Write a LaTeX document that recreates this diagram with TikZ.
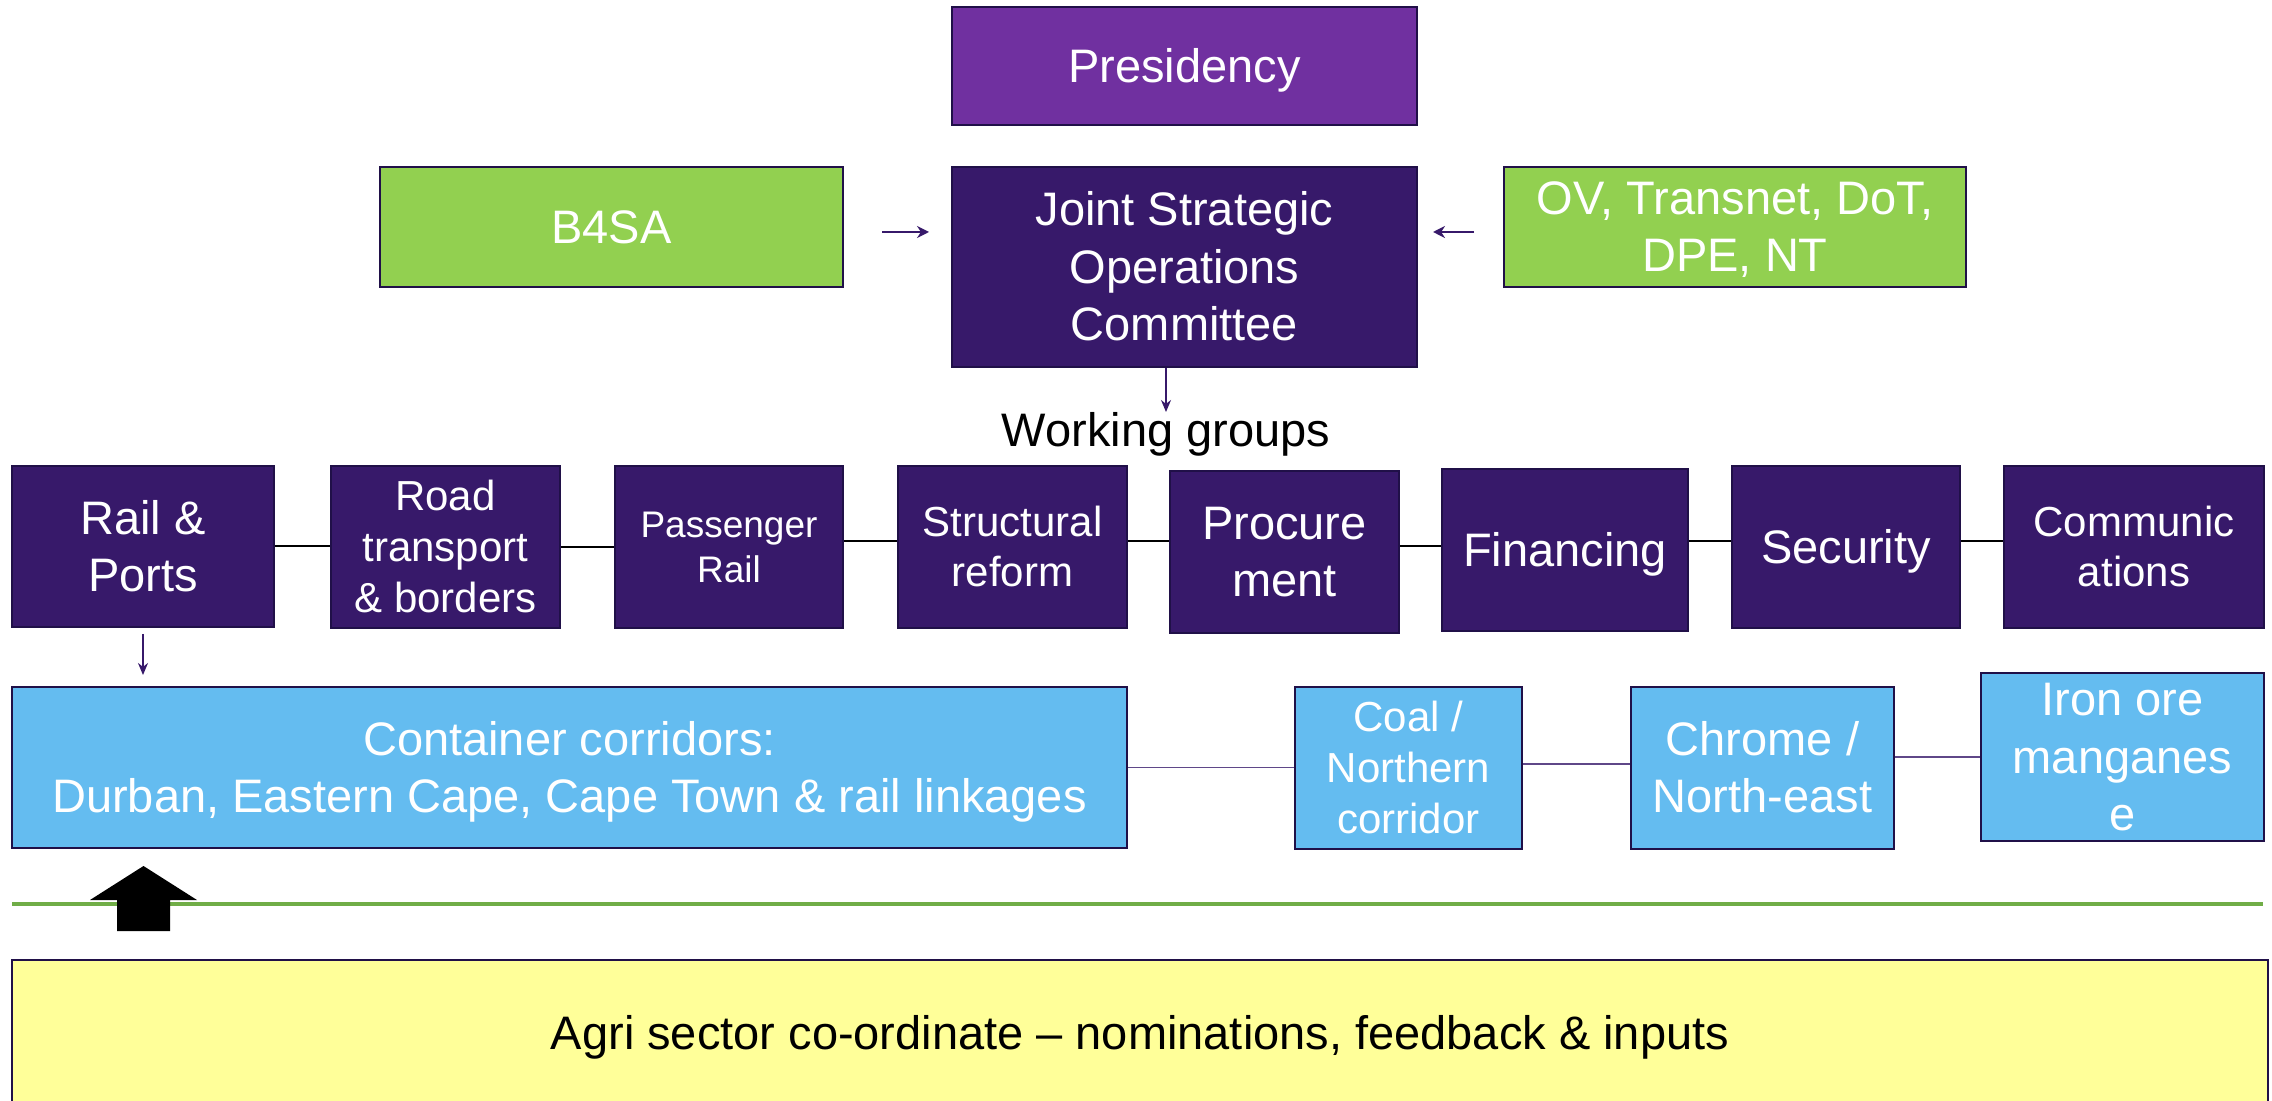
\documentclass[tikz,border=0pt]{standalone}
\usepackage{fontspec}
\setmainfont{Liberation Sans}
\usetikzlibrary{arrows.meta}
\definecolor{presid}{RGB}{112,48,160}
\definecolor{darkp}{RGB}{55,25,106}
\definecolor{greenbox}{RGB}{146,208,80}
\definecolor{bluebox}{RGB}{100,188,240}
\definecolor{yellowbox}{RGB}{255,255,153}
\definecolor{greenline}{RGB}{112,173,71}
\definecolor{edge}{RGB}{32,16,72}
\newcommand\fsbig{\fontsize{23.5}{28.7}\selectfont}
\newcommand\fsmid{\fontsize{21}{25.3}\selectfont}
\newcommand\fssmall{\fontsize{18.5}{22.5}\selectfont}
\newcommand\myst{\rule[-0.212em]{0pt}{1.117em}}
\tikzset{
  box/.style={draw=edge, line width=1pt, text=white, align=center, inner sep=0pt, font=\fsbig},
  arr/.style={draw=darkp, line width=0.9pt, -{Stealth[length=6pt,width=6pt]}},
  thinarr/.style={draw=darkp, line width=0.6pt, -{Stealth[length=6pt,width=5pt]}},
  link/.style={draw=black, line width=1pt},
  blink/.style={draw=darkp!80, line width=0.6pt}
}
\begin{document}
\begin{tikzpicture}[x=0.5pt,y=-0.5pt]
\useasboundingbox[fill=white] (0,0) rectangle (2272,1101);
% top
\node[box, fill=presid, minimum width=232.5pt, minimum height=59pt] (pres) at (1184.5,66) {\myst Presidency\myst};
\node[box, fill=greenbox, minimum width=231.5pt, minimum height=60pt] (b4sa) at (611.5,227) {\myst B4SA\myst};
\node[box, fill=darkp, minimum width=232.5pt, minimum height=100pt] (jsoc) at (1184.5,267) {\myst Joint Strategic\\Operations\\Committee\myst};
\node[box, fill=greenbox, minimum width=231pt, minimum height=60pt] (ov) at (1735,227) {\myst OV, Transnet, DoT,\\DPE, NT\myst};
\node[inner sep=0pt, anchor=north, font=\fsbig] (wg) at (1166,412) {Working groups};
\draw[arr, shorten <=19pt, shorten >=11pt] ([yshift=-2.5pt]b4sa.east) -- ([yshift=-2.5pt]b4sa.east -| jsoc.west);
\draw[arr, shorten <=14.5pt, shorten >=7.5pt] ([yshift=-2.5pt]ov.west) -- ([yshift=-2.5pt]ov.west -| jsoc.east);
\draw[thinarr] (jsoc.south -| wg.north) -- (wg.north);
% working groups row
\node[box, fill=darkp, minimum width=131pt, minimum height=80.5pt] (rail) at (143,546.5) {\myst Rail \&\\Ports\myst};
\node[box, fill=darkp, minimum width=114.5pt, minimum height=81pt, font=\fsmid] (road) at (445.5,547) {\myst Road\\transport\\\& borders\myst};
\node[box, fill=darkp, minimum width=114pt, minimum height=81pt, font=\fssmall] (pass) at (729,547) {\myst Passenger\\Rail\myst};
\node[box, fill=darkp, minimum width=114.5pt, minimum height=81pt, font=\fsmid] (struct) at (1012.5,547) {\myst Structural\\reform\myst};
\node[box, fill=darkp, minimum width=114.5pt, minimum height=81pt] (proc) at (1284.5,552) {\myst Procure\\ment\myst};
\node[box, fill=darkp, minimum width=123pt, minimum height=81pt] (fin) at (1565,550) {\myst Financing\myst};
\node[box, fill=darkp, minimum width=114pt, minimum height=81pt] (sec) at (1846,547) {\myst Security\myst};
\node[box, fill=darkp, minimum width=130pt, minimum height=81pt, font=\fsmid] (comm) at (2134,547) {\myst Communic\\ations\myst};
\draw[link] (rail.east) -- (rail.east -| road.west);
\draw[link] (road.east) -- (road.east -| pass.west);
\draw[link] ([yshift=3pt]pass.east) -- ([yshift=3pt]pass.east -| struct.west);
\draw[link] ([yshift=3pt]struct.east) -- ([yshift=3pt]struct.east -| proc.west);
\draw[link] ([yshift=3pt]proc.east) -- ([yshift=3pt]proc.east -| fin.west);
\draw[link] ([yshift=4.5pt]fin.east) -- ([yshift=4.5pt]fin.east -| sec.west);
\draw[link] ([yshift=3pt]sec.east) -- ([yshift=3pt]sec.east -| comm.west);
% corridors row
\node[box, fill=bluebox, minimum width=557.5pt, minimum height=80.5pt] (cont) at (569.5,767.5) {\myst Container corridors:\\Durban, Eastern Cape, Cape Town \& rail linkages\myst};
\node[box, fill=bluebox, minimum width=113.5pt, minimum height=81pt, font=\fsmid] (coal) at (1408.5,768) {\myst Coal /\\Northern\\corridor\myst};
\node[box, fill=bluebox, minimum width=131.5pt, minimum height=81pt] (chrome) at (1762.5,768) {\myst Chrome /\\North-east\myst};
\node[box, fill=bluebox, minimum width=141.5pt, minimum height=81pt] (iron) at (2122.5,757) {\myst Iron ore\\manganes\\e\myst};
\draw[thinarr, shorten <=3pt, shorten >=5.5pt] (rail.south) -- (rail.south |- cont.north);
\draw[blink] (cont.east) -- (cont.east -| coal.west);
\draw[blink] ([yshift=2pt]coal.east) -- ([yshift=2pt]coal.east -| chrome.west);
\draw[blink] ([yshift=5.5pt]chrome.east) -- ([yshift=5.5pt]chrome.east -| iron.west);
% green line
\coordinate (gl1) at (12,904);
\coordinate (gl2) at (2263,904);
\draw[greenline, line width=2pt] (gl1) -- (gl2);
% agri box
\node[box, fill=yellowbox, text=black, minimum width=1128pt, minimum height=73pt] (agri) at (1140,1033) {\myst Agri sector co-ordinate -- nominations, feedback \& inputs\myst};
% block arrow
\fill[black] (117,931) -- (170,931) -- (170,900) -- (197,900) -- (143.5,866) -- (90,900) -- (117,900) -- cycle;
\end{tikzpicture}
\end{document}
